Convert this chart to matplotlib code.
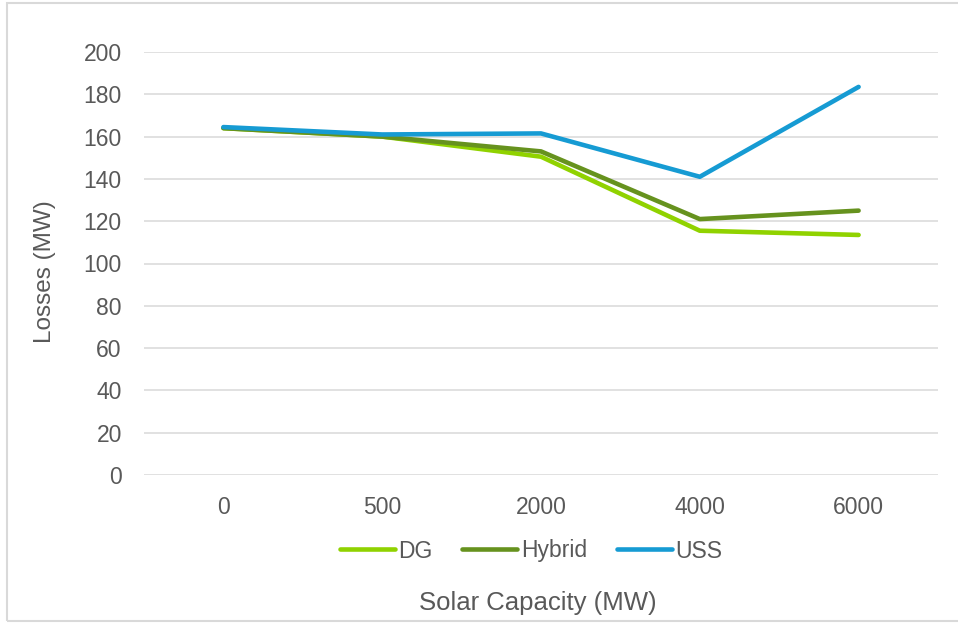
import matplotlib

matplotlib.use("Agg")

import matplotlib.pyplot as plt
from matplotlib.patches import Rectangle

plt.rcParams["font.family"] = ["Liberation Sans", "DejaVu Sans"]

capacity = ["0", "500", "2000", "4000", "6000"]
dg = [164.0, 160.0, 150.5, 115.5, 113.5]
hybrid = [164.0, 160.0, 153.0, 121.0, 125.0]
uss = [164.5, 161.0, 161.5, 141.0, 183.5]
y_ticks = list(range(0, 201, 20))

GREY_TEXT = "#595959"
GRID = "#D9D9D9"

fig = plt.figure(figsize=(9.58, 6.24), dpi=100, facecolor="white")
fig.patches.append(Rectangle((7 / 958, 3 / 624), 1.0, 618 / 624, transform=fig.transFigure,
                             fill=False, edgecolor="#D9D9D9", linewidth=1.5))

ax = fig.add_axes([144 / 958, 1 - 475 / 624, 794 / 958, 423 / 624])
x = range(len(capacity))
ax.plot(x, dg, color="#90D200", linewidth=3.3, solid_capstyle="round", label="DG", zorder=3)
ax.plot(x, hybrid, color="#66921E", linewidth=3.3, solid_capstyle="round", label="Hybrid", zorder=3)
ax.plot(x, uss, color="#169BD3", linewidth=3.3, solid_capstyle="round", label="USS", zorder=4)

ax.set_xlim(-0.5, len(capacity) - 0.5)
ax.set_ylim(0, 200)
ax.set_xticks(list(x))
ax.set_xticklabels(capacity)
ax.set_yticks(y_ticks)
ax.grid(axis="y", color=GRID, linewidth=1.1)
ax.set_axisbelow(True)
for spine in ax.spines.values():
    spine.set_visible(False)
ax.tick_params(length=0, labelsize=16.5, colors=GREY_TEXT)
ax.tick_params(axis="y", pad=16)
ax.tick_params(axis="x", pad=15)

fig.text(45 / 958, 1 - 272 / 624, "Losses (MW)", rotation=90, ha="center", va="center",
         fontsize=17.5, color=GREY_TEXT)
fig.text(538 / 958, 1 - 603 / 624, "Solar Capacity (MW)", ha="center", va="center",
         fontsize=18.5, color=GREY_TEXT)

leg = fig.legend(loc="center", bbox_to_anchor=(531 / 958, 1 - 551 / 624), ncol=3, frameon=False,
                 fontsize=16.5, handlelength=2.4, handletextpad=0.15, columnspacing=1.3)
for text in leg.get_texts():
    text.set_color(GREY_TEXT)

fig.savefig("out.png", dpi=100)
